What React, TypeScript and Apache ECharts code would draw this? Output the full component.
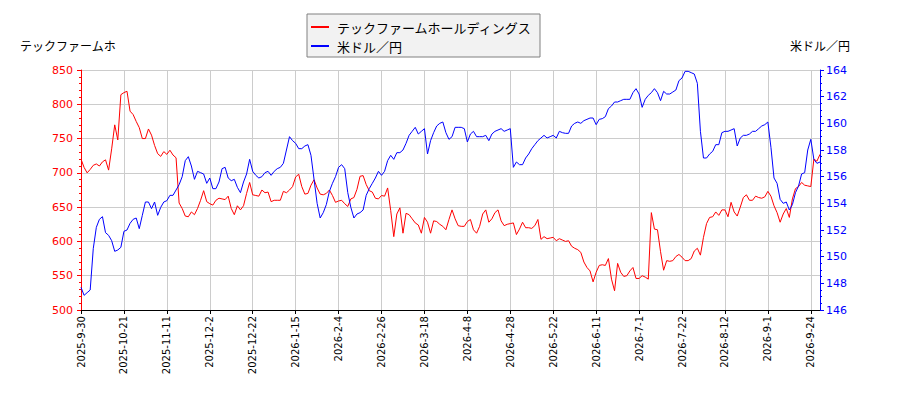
import React, { useEffect, useRef } from 'react';
import * as echarts from 'echarts';

// 東証の休場日（週末以外）
const HOLIDAYS = [
  '2025-10-13', '2025-11-03', '2025-11-24', '2025-12-31',
  '2026-01-01', '2026-01-02', '2026-01-12', '2026-02-11', '2026-02-23',
  '2026-03-20', '2026-04-29', '2026-05-04', '2026-05-05', '2026-05-06',
  '2026-07-20', '2026-08-11', '2026-09-21', '2026-09-22', '2026-09-23',
];

const STOCK_NAME = 'テックファームホールディングス';
const FX_NAME = '米ドル／円';

const stockPrices = [
  720, 708, 700, 705, 711, 713, 710, 716, 719, 704,
  735, 770, 748, 814, 817, 819, 790, 785, 775, 766,
  750, 750, 764, 755, 740, 728, 724, 731, 727, 733,
  726, 722, 656, 648, 637, 636, 643, 639, 648, 660,
  674, 658, 655, 653, 660, 663, 662, 661, 666, 648,
  639, 652, 646, 652, 670, 686, 668, 667, 666, 675,
  671, 672, 658, 660, 660, 660, 673, 671, 675, 680,
  694, 698, 680, 669, 670, 682, 690, 678, 669, 668,
  670, 675, 667, 657, 659, 660, 655, 651, 662, 664,
  676, 695, 696, 683, 674, 672, 663, 662, 667, 666,
  678, 645, 607, 640, 649, 612, 641, 639, 633, 627,
  624, 612, 635, 628, 612, 630, 629, 625, 622, 617,
  632, 646, 633, 623, 622, 622, 629, 632, 617, 612,
  622, 640, 646, 628, 633, 642, 646, 630, 623, 625,
  626, 627, 610, 618, 628, 620, 620, 619, 623, 632,
  603, 607, 604, 605, 606, 601, 604, 602, 600, 601,
  593, 590, 588, 584, 570, 562, 557, 541, 555, 565,
  566, 565, 575, 545, 528, 568, 555, 549, 550, 557,
  562, 546, 546, 550, 548, 545, 642, 618, 617, 585,
  558, 572, 571, 572, 578, 581, 577, 572, 572, 575,
  586, 590, 580, 606, 626, 635, 636, 643, 638, 646,
  646, 636, 657, 643, 637, 650, 664, 668, 660, 660,
  666, 664, 663, 665, 673, 666, 652, 642, 628, 640,
  648, 635, 662, 677, 680, 686, 682, 681, 680, 720,
  717, 727,
];

const usdJpy = [
  147.7, 147.1, 147.3, 147.5, 150.6, 152.2, 152.8, 153.0, 151.8, 151.6,
  151.2, 150.4, 150.5, 150.7, 151.9, 152.0, 152.5, 152.8, 152.9, 152.1,
  153.1, 154.1, 154.1, 153.6, 154.1, 153.1, 153.7, 154.1, 154.2, 154.6,
  154.6, 155.0, 155.4, 156.0, 157.2, 157.5, 156.8, 155.8, 156.4, 156.3,
  156.2, 155.5, 155.9, 155.1, 155.1, 155.6, 156.6, 156.7, 155.9, 155.7,
  155.8, 155.2, 154.8, 155.6, 156.2, 157.3, 156.4, 156.1, 155.9, 156.0,
  156.3, 156.4, 156.1, 156.4, 156.6, 156.7, 157.0, 158.0, 159.0, 158.7,
  158.5, 158.1, 158.1, 158.3, 158.4, 157.6, 155.8, 154.0, 152.9, 153.3,
  153.9, 154.9, 155.5, 156.0, 156.7, 156.9, 156.6, 154.8, 153.7, 152.9,
  153.2, 153.3, 153.5, 154.6, 155.1, 155.5, 155.9, 156.4, 156.1, 156.4,
  157.2, 157.6, 157.3, 157.8, 157.8, 158.0, 158.5, 159.1, 159.4, 159.7,
  159.2, 159.4, 159.6, 157.7, 158.7, 159.3, 159.8, 160.0, 160.1, 159.3,
  158.8, 159.0, 159.7, 159.7, 159.7, 159.6, 158.6, 159.2, 159.4, 159.0,
  159.0, 159.0, 159.1, 158.7, 159.2, 159.4, 159.5, 159.6, 159.4, 159.5,
  159.6, 156.7, 157.1, 156.9, 156.9, 157.4, 157.7, 158.1, 158.4, 158.7,
  158.9, 159.1, 158.9, 159.0, 159.1, 158.9, 159.4, 159.3, 159.25, 159.25,
  159.8, 160.0, 160.1, 160.0, 160.2, 160.3, 160.4, 160.4, 159.9, 160.3,
  160.35, 160.5, 161.1, 161.3, 161.6, 161.6, 161.7, 161.8, 161.8, 161.8,
  162.3, 162.6, 162.2, 161.2, 161.8, 162.1, 162.3, 162.6, 162.3, 161.7,
  162.4, 162.2, 162.2, 162.35, 162.5, 163.2, 163.4, 163.9, 163.9, 163.8,
  163.7, 163.0, 159.4, 157.4, 157.4, 157.7, 157.9, 158.4, 158.4, 159.3,
  159.4, 159.4, 159.5, 159.6, 158.3, 158.9, 159.1, 159.1, 159.2, 159.4,
  159.4, 159.6, 159.8, 159.9, 160.1, 158.2, 155.9, 155.5, 154.3, 154.0,
  154.1, 153.5, 153.9, 154.8, 155.3, 156.2, 156.3, 158.0, 158.8, 157.3,
  157.0, 157.1,
];

const pad = (n: number) => (n < 10 ? '0' + n : '' + n);

// 営業日の日付ラベルを作る
function buildDates(): string[] {
  const out: string[] = [];
  const d = new Date(2025, 8, 30);
  const end = new Date(2026, 8, 29);
  while (d <= end) {
    const y = d.getFullYear();
    const m = d.getMonth() + 1;
    const day = d.getDate();
    const key = `${y}-${pad(m)}-${pad(day)}`;
    const dow = d.getDay();
    if (dow !== 0 && dow !== 6 && !HOLIDAYS.includes(key)) {
      out.push(`${y}-${m}-${day}`);
    }
    d.setDate(d.getDate() + 1);
  }
  return out;
}

const dates = buildDates();

const LATIN = '"DejaVu Sans", "Noto Sans CJK JP", sans-serif';
const JP = '"Noto Sans CJK JP", "DejaVu Sans", sans-serif';

const App: React.FC = () => {
  const chartRef = useRef<HTMLDivElement>(null);

  useEffect(() => {
    if (!chartRef.current) return;
    const myChart = echarts.init(chartRef.current, null, { renderer: 'svg' });

    const option = {
      animation: false,
      backgroundColor: '#ffffff',
      grid: { left: 81, right: 80, top: 70, bottom: 90, containLabel: false },
      legend: {
        orient: 'vertical',
        left: 307,
        top: 14,
        padding: [6, 8, 4, 4],
        itemGap: 5,
        itemWidth: 18,
        itemHeight: 2,
        icon: 'rect',
        backgroundColor: '#f2f2f2',
        borderColor: '#808080',
        borderWidth: 1,
        borderRadius: 0,
        textStyle: { fontFamily: JP, fontSize: 13, color: '#000', lineHeight: 14, padding: [0, 0, 0, 3] },
        data: [STOCK_NAME, FX_NAME],
      },
      graphic: [
        {
          type: 'text',
          x: 20,
          y: 45,
          style: { text: 'テックファームホ', fontFamily: JP, fontSize: 12, fill: '#000', align: 'left', verticalAlign: 'middle' },
        },
        {
          type: 'text',
          x: 850,
          y: 45,
          style: { text: FX_NAME, fontFamily: JP, fontSize: 12, fill: '#000', align: 'right', verticalAlign: 'middle' },
        },
      ],
      xAxis: {
        type: 'category',
        data: dates,
        boundaryGap: false,
        axisLine: { show: true, lineStyle: { color: '#000', width: 1 } },
        axisTick: { show: true, interval: 13, length: 4, lineStyle: { color: '#000' } },
        axisLabel: {
          interval: 13,
          rotate: 90,
          margin: 6,
          color: '#000',
          fontFamily: LATIN,
          fontSize: 10,
        },
        splitLine: { show: true, interval: 13, lineStyle: { color: '#cccccc', width: 1 } },
      },
      yAxis: [
        {
          type: 'value',
          position: 'left',
          min: 500,
          max: 850,
          interval: 50,
          axisLine: { show: true, lineStyle: { color: '#ff0000', width: 1 } },
          axisTick: { show: true, length: 4, lineStyle: { color: '#ff0000' } },
          minorTick: { show: true, splitNumber: 5, length: 2, lineStyle: { color: '#ff0000' } },
          axisLabel: { color: '#ff0000', fontFamily: LATIN, fontSize: 11, margin: 8 },
          splitLine: { show: true, lineStyle: { color: '#cccccc', width: 1 } },
        },
        {
          type: 'value',
          position: 'right',
          min: 146,
          max: 164,
          interval: 2,
          axisLine: { show: true, lineStyle: { color: '#0000ff', width: 1 } },
          axisTick: { show: true, length: 4, lineStyle: { color: '#0000ff' } },
          minorTick: { show: true, splitNumber: 4, length: 2, lineStyle: { color: '#0000ff' } },
          axisLabel: { color: '#0000ff', fontFamily: LATIN, fontSize: 11, margin: 6 },
          splitLine: { show: false },
        },
      ],
      series: [
        {
          name: STOCK_NAME,
          type: 'line',
          yAxisIndex: 0,
          data: stockPrices,
          showSymbol: false,
          lineStyle: { color: '#ff0000', width: 1 },
          itemStyle: { color: '#ff0000' },
        },
        {
          name: FX_NAME,
          type: 'line',
          yAxisIndex: 1,
          data: usdJpy,
          showSymbol: false,
          lineStyle: { color: '#0000ff', width: 1 },
          itemStyle: { color: '#0000ff' },
        },
      ],
    };

    myChart.setOption(option);

    return () => {
      myChart.dispose();
    };
  }, []);

  return (
    <div
      ref={chartRef}
      style={{ position: 'absolute', left: 0, top: 0, width: '900px', height: '400px' }}
    />
  );
};

export default App;
